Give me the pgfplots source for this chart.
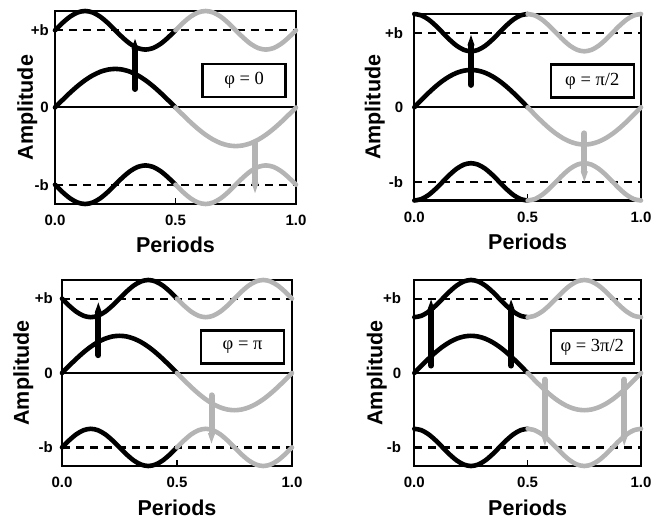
\documentclass[border=0pt]{standalone}
\usepackage{fontspec}
\setmainfont{Liberation Sans}
\newfontfamily\tms{Liberation Serif}
\usepackage{pgfplots}
\pgfplotsset{compat=1.18}
\usepackage{pgfplotstable}
\usetikzlibrary{arrows.meta}
\definecolor{lg}{RGB}{180,180,180}

% first half period (black), columns: middle curve, upper/lower curve for each phase
\pgfplotstableread{
x mid u0 l0 u1 l1 u2 l2 u3 l3
0.00000 0.0000 1.0000 -1.0000 1.2500 -1.2500 1.0000 -1.0000 0.7500 -0.7500
0.03125 0.0975 1.0957 -1.0957 1.2310 -1.2310 0.9043 -0.9043 0.7690 -0.7690
0.06250 0.1913 1.1768 -1.1768 1.1768 -1.1768 0.8232 -0.8232 0.8232 -0.8232
0.09375 0.2778 1.2310 -1.2310 1.0957 -1.0957 0.7690 -0.7690 0.9043 -0.9043
0.12500 0.3536 1.2500 -1.2500 1.0000 -1.0000 0.7500 -0.7500 1.0000 -1.0000
0.15625 0.4157 1.2310 -1.2310 0.9043 -0.9043 0.7690 -0.7690 1.0957 -1.0957
0.18750 0.4619 1.1768 -1.1768 0.8232 -0.8232 0.8232 -0.8232 1.1768 -1.1768
0.21875 0.4904 1.0957 -1.0957 0.7690 -0.7690 0.9043 -0.9043 1.2310 -1.2310
0.25000 0.5000 1.0000 -1.0000 0.7500 -0.7500 1.0000 -1.0000 1.2500 -1.2500
0.28125 0.4904 0.9043 -0.9043 0.7690 -0.7690 1.0957 -1.0957 1.2310 -1.2310
0.31250 0.4619 0.8232 -0.8232 0.8232 -0.8232 1.1768 -1.1768 1.1768 -1.1768
0.34375 0.4157 0.7690 -0.7690 0.9043 -0.9043 1.2310 -1.2310 1.0957 -1.0957
0.37500 0.3536 0.7500 -0.7500 1.0000 -1.0000 1.2500 -1.2500 1.0000 -1.0000
0.40625 0.2778 0.7690 -0.7690 1.0957 -1.0957 1.2310 -1.2310 0.9043 -0.9043
0.43750 0.1913 0.8232 -0.8232 1.1768 -1.1768 1.1768 -1.1768 0.8232 -0.8232
0.46875 0.0975 0.9043 -0.9043 1.2310 -1.2310 1.0957 -1.0957 0.7690 -0.7690
0.50000 0.0000 1.0000 -1.0000 1.2500 -1.2500 1.0000 -1.0000 0.7500 -0.7500
}\firsthalf

% second half period (gray)
\pgfplotstableread{
x mid u0 l0 u1 l1 u2 l2 u3 l3
0.50000 0.0000 1.0000 -1.0000 1.2500 -1.2500 1.0000 -1.0000 0.7500 -0.7500
0.53125 -0.0975 1.0957 -1.0957 1.2310 -1.2310 0.9043 -0.9043 0.7690 -0.7690
0.56250 -0.1913 1.1768 -1.1768 1.1768 -1.1768 0.8232 -0.8232 0.8232 -0.8232
0.59375 -0.2778 1.2310 -1.2310 1.0957 -1.0957 0.7690 -0.7690 0.9043 -0.9043
0.62500 -0.3536 1.2500 -1.2500 1.0000 -1.0000 0.7500 -0.7500 1.0000 -1.0000
0.65625 -0.4157 1.2310 -1.2310 0.9043 -0.9043 0.7690 -0.7690 1.0957 -1.0957
0.68750 -0.4619 1.1768 -1.1768 0.8232 -0.8232 0.8232 -0.8232 1.1768 -1.1768
0.71875 -0.4904 1.0957 -1.0957 0.7690 -0.7690 0.9043 -0.9043 1.2310 -1.2310
0.75000 -0.5000 1.0000 -1.0000 0.7500 -0.7500 1.0000 -1.0000 1.2500 -1.2500
0.78125 -0.4904 0.9043 -0.9043 0.7690 -0.7690 1.0957 -1.0957 1.2310 -1.2310
0.81250 -0.4619 0.8232 -0.8232 0.8232 -0.8232 1.1768 -1.1768 1.1768 -1.1768
0.84375 -0.4157 0.7690 -0.7690 0.9043 -0.9043 1.2310 -1.2310 1.0957 -1.0957
0.87500 -0.3536 0.7500 -0.7500 1.0000 -1.0000 1.2500 -1.2500 1.0000 -1.0000
0.90625 -0.2778 0.7690 -0.7690 1.0957 -1.0957 1.2310 -1.2310 0.9043 -0.9043
0.93750 -0.1913 0.8232 -0.8232 1.1768 -1.1768 1.1768 -1.1768 0.8232 -0.8232
0.96875 -0.0975 0.9043 -0.9043 1.2310 -1.2310 1.0957 -1.0957 0.7690 -0.7690
1.00000 0.0000 1.0000 -1.0000 1.2500 -1.2500 1.0000 -1.0000 0.7500 -0.7500
}\secondhalf

\pgfplotsset{
  wave/.style={
    scale only axis, anchor=south west, clip=false,
    xmin=0, xmax=1, ymin=-1.25, ymax=1.25,
    xtick={0,0.5,1}, xticklabels={0.0,0.5,1.0},
    ytick={-1,0,1}, yticklabels={-b,0,+b},
    tick align=inside, xtick pos=bottom, ytick pos=left,
    major tick length=6pt,
    every tick/.style={black, line width=1.5pt},
    axis line style={line width=2.2pt},
    ticklabel style={font=\fontsize{15}{18}\selectfont\bfseries, inner sep=0pt},
    xticklabel style={yshift=-11pt},
    label style={font=\fontsize{21.5}{25}\selectfont\bfseries},
    xlabel={Periods}, ylabel={Amplitude},
    xlabel style={at={(axis description cs:0.5,0)}, anchor=base, yshift=-49pt},
  },
  ylab/.style={ylabel style={at={([xshift=-#1]axis description cs:0,0.5)}, anchor=base}},
  ygap/.style={yticklabel style={xshift=-#1}},
  crv/.style={line width=4.6pt, line cap=round, smooth},
  bar/.style={line width=6pt, line cap=round, -{Triangle[width=6pt,length=12pt]}},
  ref/.style={line width=2.2pt, dash pattern=on 8pt off 6pt},
  zero/.style={line width=2pt},
}
\newcommand{\phasebox}[1]{\node[draw, line width=2.4pt, fill=white, minimum width=83pt,
  minimum height=33pt, inner xsep=5pt, font=\tms\fontsize{18.5}{20}\selectfont] at (rel axis cs:0.785,0.64) {#1};}

\begin{document}
\begin{tikzpicture}
\useasboundingbox (0pt,0pt) rectangle (652pt,525pt);

% phi = 0
\begin{axis}[wave, at={(55pt,321pt)}, width=241pt, height=193pt, ylab=22pt, ygap=6pt]
\addplot[black, zero] coordinates {(0,0) (1,0)};
\addplot[black, ref] coordinates {(0,1) (1,1)};
\addplot[black, ref] coordinates {(0,-1) (1,-1)};
\addplot[black, crv] table[x=x, y=mid] {\firsthalf};
\addplot[black, crv] table[x=x, y=u0] {\firsthalf};
\addplot[black, crv] table[x=x, y=l0] {\firsthalf};
\addplot[lg, crv] table[x=x, y=mid] {\secondhalf};
\addplot[lg, crv] table[x=x, y=u0] {\secondhalf};
\addplot[lg, crv] table[x=x, y=l0] {\secondhalf};
\addplot[black, bar] coordinates {(0.332,0.24) (0.332,0.91)};
\addplot[lg, bar] coordinates {(0.83,-0.45) (0.83,-1.13)};
\phasebox{φ = 0}
\end{axis}

% phi = pi/2
\begin{axis}[wave, at={(414.3pt,324.5pt)}, width=226.7pt, height=186.5pt, ylab=34pt, ygap=11pt]
\addplot[black, zero] coordinates {(0,0) (1,0)};
\addplot[black, ref] coordinates {(0,1) (1,1)};
\addplot[black, ref] coordinates {(0,-1) (1,-1)};
\addplot[black, crv] table[x=x, y=mid] {\firsthalf};
\addplot[black, crv] table[x=x, y=u1] {\firsthalf};
\addplot[black, crv] table[x=x, y=l1] {\firsthalf};
\addplot[lg, crv] table[x=x, y=mid] {\secondhalf};
\addplot[lg, crv] table[x=x, y=u1] {\secondhalf};
\addplot[lg, crv] table[x=x, y=l1] {\secondhalf};
\addplot[black, bar] coordinates {(0.25,0.30) (0.25,0.99)};
\addplot[lg, bar] coordinates {(0.75,-0.35) (0.75,-1.02)};
\phasebox{φ = π/2}
\end{axis}

% phi = pi
\begin{axis}[wave, at={(62pt,59pt)}, width=230pt, height=186pt, ylab=33pt, ygap=9pt]
\addplot[black, zero] coordinates {(0,0) (1,0)};
\addplot[black, ref] coordinates {(0,1) (1,1)};
\addplot[black, ref] coordinates {(0,-1) (1,-1)};
\addplot[black, crv] table[x=x, y=mid] {\firsthalf};
\addplot[black, crv] table[x=x, y=u2] {\firsthalf};
\addplot[black, crv] table[x=x, y=l2] {\firsthalf};
\addplot[lg, crv] table[x=x, y=mid] {\secondhalf};
\addplot[lg, crv] table[x=x, y=u2] {\secondhalf};
\addplot[lg, crv] table[x=x, y=l2] {\secondhalf};
\addplot[black, bar] coordinates {(0.158,0.24) (0.158,0.97)};
\addplot[lg, bar] coordinates {(0.65,-0.30) (0.65,-0.97)};
\phasebox{φ = π}
\end{axis}

% phi = 3pi/2
\begin{axis}[wave, at={(414.3pt,59pt)}, width=226.7pt, height=186pt, ylab=32pt, ygap=13pt]
\addplot[black, zero] coordinates {(0,0) (1,0)};
\addplot[black, ref] coordinates {(0,1) (1,1)};
\addplot[black, ref] coordinates {(0,-1) (1,-1)};
\addplot[black, crv] table[x=x, y=mid] {\firsthalf};
\addplot[black, crv] table[x=x, y=u3] {\firsthalf};
\addplot[black, crv] table[x=x, y=l3] {\firsthalf};
\addplot[lg, crv] table[x=x, y=mid] {\secondhalf};
\addplot[lg, crv] table[x=x, y=u3] {\secondhalf};
\addplot[lg, crv] table[x=x, y=l3] {\secondhalf};
\addplot[black, bar] coordinates {(0.074,0.10) (0.074,1.01)};
\addplot[black, bar] coordinates {(0.427,0.10) (0.427,1.01)};
\addplot[lg, bar] coordinates {(0.576,-0.09) (0.576,-1.0)};
\addplot[lg, bar] coordinates {(0.926,-0.09) (0.926,-1.0)};
\phasebox{φ = 3π/2}
\end{axis}
\end{tikzpicture}
\end{document}
